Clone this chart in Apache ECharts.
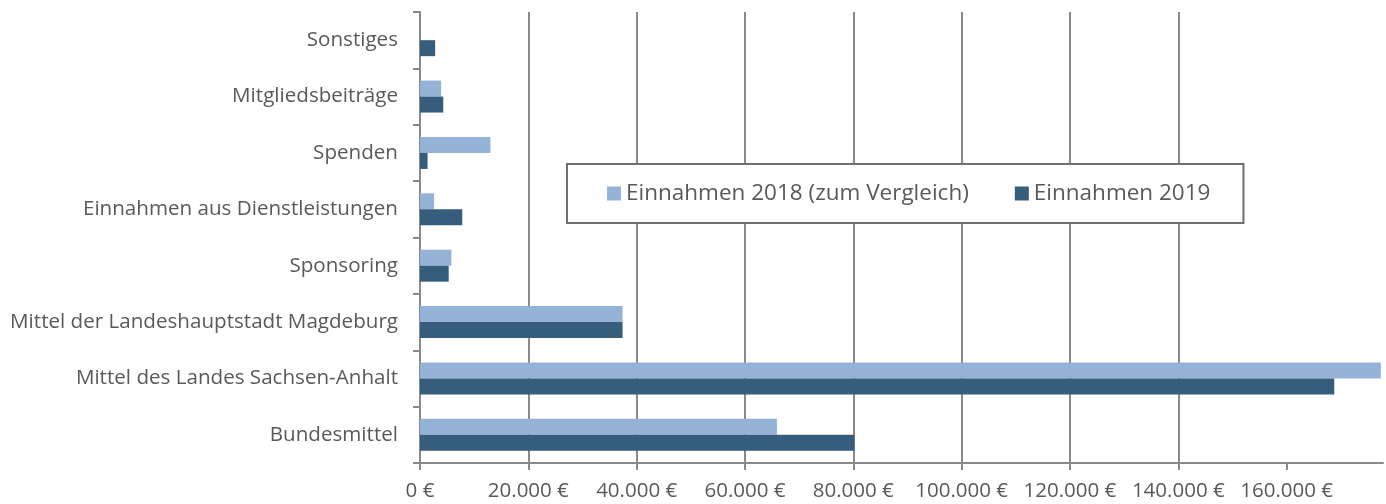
<!DOCTYPE html>
<html>
<head>
<meta charset="utf-8">
<script src="https://cdn.jsdelivr.net/npm/echarts@6/dist/echarts.min.js"></script>
<style>
html,body{margin:0;padding:0;background:#fff;}
#chart{width:1386px;height:504px;}
</style>
</head>
<body>
<div id="chart"></div>
<script>
// Categories from bottom to top
var categories = [
  'Bundesmittel',
  'Mittel des Landes Sachsen-Anhalt',
  'Mittel der Landeshauptstadt Magdeburg',
  'Sponsoring',
  'Einnahmen aus Dienstleistungen',
  'Spenden',
  'Mitgliedsbeiträge',
  'Sonstiges'
];
var seriesNames = ['Einnahmen 2018 (zum Vergleich)', 'Einnahmen 2019'];
var values2018 = [65900, 177400, 37400, 5800, 2600, 13000, 3900, null];
var values2019 = [80200, 168800, 37400, 5300, 7800, 1400, 4300, 2800];
var xTicks = [0, 20000, 40000, 60000, 80000, 100000, 120000, 140000, 160000];
var xMax = 177800;

function fmt(v) {
  return String(v).replace(/\B(?=(\d{3})+(?!\d))/g, '.') + ' \u20AC';
}

var textColor = '#595959';
var lineColor = '#8a8a8a';
var font = 'Open Sans';

var chart = echarts.init(document.getElementById('chart'), null, {renderer: 'canvas'});
chart.setOption({
  animation: false,
  backgroundColor: '#ffffff',
  textStyle: {fontFamily: font, color: textColor},
  grid: {left: 420, right: 3, top: 12, bottom: 41, containLabel: false},
  legend: {
    data: seriesNames,
    left: 567,
    top: 164,
    orient: 'horizontal',
    icon: 'rect',
    itemWidth: 14,
    itemHeight: 14,
    itemGap: 46,
    padding: [18, 33, 18, 40],
    borderColor: '#6e6e6e',
    borderWidth: 2,
    backgroundColor: '#ffffff',
    textStyle: {fontFamily: font, fontSize: 22.5, color: textColor},
    z: 10
  },
  xAxis: {
    type: 'value',
    min: 0,
    max: xMax,
    interval: 20000,
    axisLine: {show: true, lineStyle: {color: lineColor, width: 2}},
    axisTick: {show: true, length: 7, lineStyle: {color: lineColor, width: 2}, customValues: xTicks},
    axisLabel: {
      customValues: xTicks,
      formatter: fmt,
      fontFamily: font,
      fontSize: 20.5,
      color: textColor,
      margin: 18
    },
    splitLine: {show: true, showMinLine: false, showMaxLine: false, lineStyle: {color: lineColor, width: 2}}
  },
  yAxis: {
    type: 'category',
    data: categories,
    axisLine: {show: true, lineStyle: {color: lineColor, width: 2}},
    axisTick: {show: true, length: 7, lineStyle: {color: lineColor, width: 2}},
    axisLabel: {fontFamily: font, fontSize: 20.6, color: textColor, margin: 22}
  },
  series: [
    {
      name: seriesNames[0],
      type: 'bar',
      data: values2018,
      barWidth: 16,
      barGap: '0%',
      itemStyle: {color: '#95b3d7'}
    },
    {
      name: seriesNames[1],
      type: 'bar',
      data: values2019,
      barWidth: 16,
      barGap: '0%',
      itemStyle: {color: '#365d7c'}
    }
  ]
});
</script>
</body>
</html>
